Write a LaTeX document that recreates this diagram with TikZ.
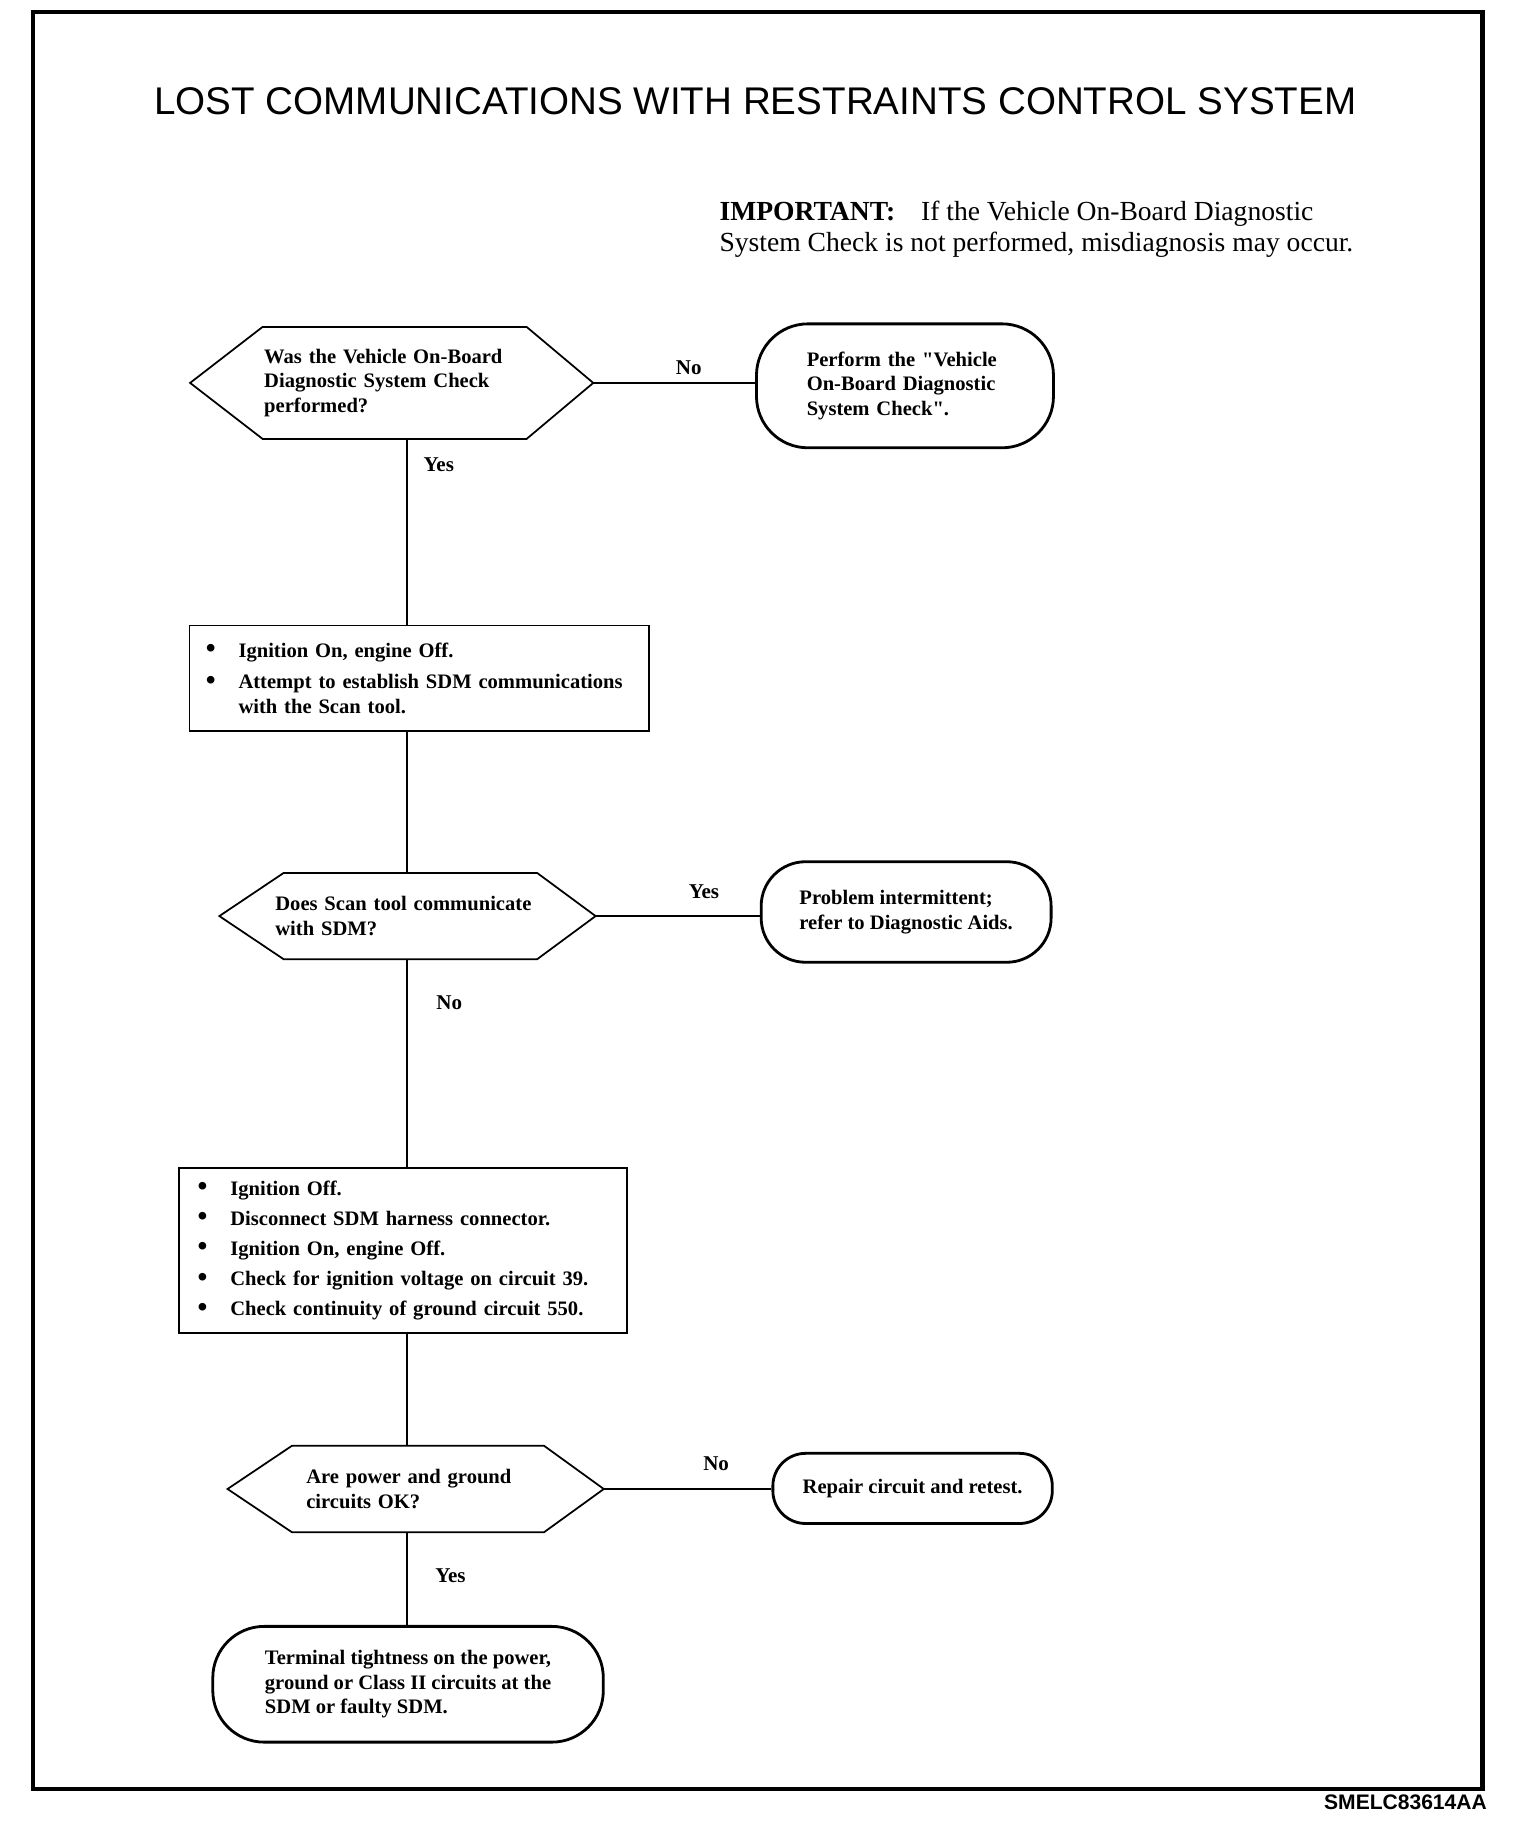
\documentclass[tikz,border=0pt]{standalone}
\usepackage{fontspec}
\setmainfont{Liberation Serif}
\setsansfont{Liberation Sans}
\usetikzlibrary{calc}
\newcommand\fcbul{\makebox[14pt][l]{\raisebox{-0.2pt}{\large\textbullet}}}
\newcommand\fcind{\makebox[14pt][l]{}}
\newcommand\fchex[3]{\draw[hexline] (#1.west) -- ($(#1.north west)+(#2,0)$) -- ($(#1.north east)+(-#3,0)$) -- (#1.east) -- ($(#1.south east)+(-#3,0)$) -- ($(#1.south west)+(#2,0)$) -- cycle;}
\begin{document}
\begin{tikzpicture}[x=0.5pt,y=-0.5pt,
  txt/.style={font=\bfseries\fontsize{8.8}{10.5}\selectfont, align=left, inner sep=0pt},
  hexline/.style={line width=0.75pt, line join=miter},
  terminal/.style={txt, draw, line width=1.2pt},
  stepbox/.style={txt, draw, line width=0.75pt},
  conn/.style={line width=0.6pt},
  lbl/.style={font=\bfseries\fontsize{9}{10}\selectfont}]
\useasboundingbox (0,0) rectangle (1300,1572);
% frame
\draw[line width=1.8pt] (28,10) rectangle (1268,1530);
\node[font=\sffamily\fontsize{16.5}{18}\selectfont] (title) at (646,87) {LOST COMMUNICATIONS WITH RESTRAINTS CONTROL SYSTEM};
\node[anchor=west, align=left, inner sep=0pt, font=\fontsize{11.8}{13}\selectfont] (important) at (615,196)
  {{\bfseries IMPORTANT:}\hspace{11pt}If the Vehicle On-Board Diagnostic\\System Check is not performed, misdiagnosis may occur.};
\node[anchor=east, inner sep=0pt, font=\sffamily\bfseries\fontsize{9}{10}\selectfont] (code) at (1272,1541) {SMELC83614AA};

% nodes
\node[txt, minimum width=172pt, minimum height=47.5pt, text width=109pt] (h1) at (335,327.5)
  {Was the Vehicle On-Board\\Diagnostic System Check\\performed?};
\fchex{h1}{62}{57}
\node[terminal, rounded corners=22pt, minimum width=127pt, minimum height=53pt, text width=84pt] (t1) at (774,330)
  {Perform the \textquotedbl Vehicle\\On-Board Diagnostic\\System Check\textquotedbl.};
\node[stepbox, minimum width=196.5pt, minimum height=45pt, text width=182.5pt] (b1) at (358.5,580)
  {\fcbul Ignition On, engine Off.\\[3pt]\fcbul Attempt to establish SDM communications\\\fcind with the Scan tool.};
\node[txt, minimum width=160.5pt, minimum height=36.5pt, text width=113pt] (h2) at (348.5,783.5)
  {Does Scan tool communicate\\with SDM?};
\fchex{h2}{55}{50}
\node[terminal, rounded corners=19pt, minimum width=124pt, minimum height=43pt] (t2) at (775,780)
  {Problem intermittent;\\refer to Diagnostic Aids.};
\node[stepbox, minimum width=191.5pt, minimum height=70.5pt, text width=175.5pt] (b2) at (344.5,1069.5)
  {\fcbul Ignition Off.\\[2.4pt]\fcbul Disconnect SDM harness connector.\\[2.4pt]\fcbul Ignition On, engine Off.\\[2.4pt]\fcbul Check for ignition voltage on circuit 39.\\[2.4pt]\fcbul Check continuity of ground circuit 550.};
\node[txt, minimum width=160.5pt, minimum height=36.5pt, text width=93.5pt] (h3) at (355.5,1273.5)
  {Are power and ground\\circuits OK?};
\fchex{h3}{55}{51}
\node[terminal, rounded corners=14pt, minimum width=119.5pt, minimum height=30pt] (t3) at (780.5,1273)
  {Repair circuit and retest.};
\node[terminal, rounded corners=22pt, minimum width=167pt, minimum height=49.5pt] (t4) at (349,1440.5)
  {Terminal tightness on the power,\\ground or Class II circuits at the\\SDM or faulty SDM.};

% connectors
\coordinate (spine) at (348,0);
\draw[conn] (h1.east) -- node[lbl, above, pos=0.59] {No} (h1.east -| t1.west);
\draw[conn] (h1.south -| spine) -- node[lbl, right=3.5pt, pos=0.14] {Yes} (b1.north -| spine);
\draw[conn] (b1.south -| spine) -- (h2.north -| spine);
\draw[conn] (h2.east) -- node[lbl, above=4pt, pos=0.66] {Yes} (h2.east -| t2.west);
\draw[conn] (h2.south -| spine) -- node[lbl, right=9pt, pos=0.21] {No} (b2.north -| spine);
\draw[conn] (b2.south -| spine) -- (h3.north -| spine);
\draw[conn] (h3.east) -- node[lbl, above=4pt, pos=0.67] {No} (h3.east -| t3.west);
\draw[conn] (h3.south -| spine) -- node[lbl, right=8.5pt, pos=0.47] {Yes} (t4.north -| spine);
\end{tikzpicture}
\end{document}
